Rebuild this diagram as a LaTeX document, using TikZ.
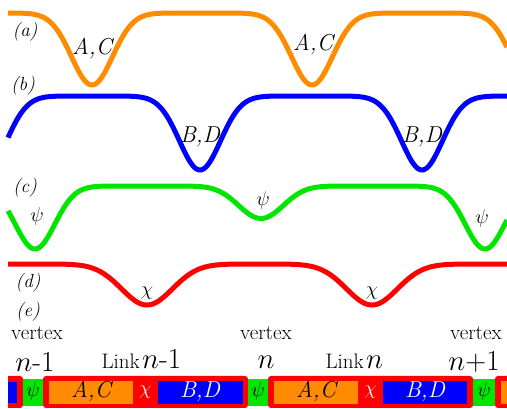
\RequirePackage{fix-cm}
\documentclass[tikz,border=0pt]{standalone}
\definecolor{cOr}{RGB}{255,140,0}
\definecolor{cBl}{RGB}{0,0,255}
\definecolor{cGr}{RGB}{0,230,0}
\definecolor{cRd}{RGB}{255,0,0}
\begin{document}
\begin{tikzpicture}[x=1pt,y=-1pt,
  declare function={g(\t,\c,\s)=exp(-min(((\t-\c)/\s)^2,12));},
  curve/.style={line width=5pt, line join=round},
  tag/.style={font=\fontsize{19}{22}\selectfont\itshape, inner sep=0pt},
  lab/.style={font=\fontsize{23}{26}\selectfont\itshape, inner sep=0pt},
  greek/.style={font=\fontsize{20}{24}\selectfont, inner sep=0pt},
  word/.style={font=\fontsize{21}{24}\selectfont, inner sep=0pt},
  big/.style={font=\fontsize{29}{32}\selectfont, inner sep=0pt},
  redbox/.style={fill=cRd, rounded corners=3pt},
  blab/.style={font=\fontsize{23}{26}\selectfont\itshape, inner sep=0pt}]
\useasboundingbox (0,0) rectangle (507,409);
% curves
\draw[curve, cOr] plot[domain=8:507, samples=300, smooth]
  (\x, {13+72*(g(\x,92,29)+g(\x,312,29)+g(\x,532,29))});
\draw[curve, cBl] plot[domain=8:507, samples=300, smooth]
  (\x, {96+74*(g(\x,-14,29)+g(\x,200,29)+g(\x,422,29))});
\draw[curve, cGr] plot[domain=8:507, samples=300, smooth]
  (\x, {186+63*(g(\x,35,28)+g(\x,485,28))+36*(0.5*g(\x,252,28)+0.5*g(\x,270,28))});
\draw[curve, cRd] plot[domain=8:507, samples=300, smooth]
  (\x, {264+41*(g(\x,147,36)+g(\x,372,36))});
% curve labels
\node[tag] (ta) at (25,32) {(a)};
\node[tag] (tb) at (23,86) {(b)};
\node[tag] (tc) at (25,188) {(c)};
\node[tag] (td) at (28,283) {(d)};
\node[tag] (te) at (28,312) {(e)};
\node[lab] (ac1) at (92,49) {A,C};
\node[lab] (ac2) at (313,45) {A,C};
\node[lab] (bd1) at (200,137) {B,D};
\node[lab] (bd2) at (422,137) {B,D};
\node[greek] (p1) at (37,217) {$\psi$};
\node[greek] (p2) at (263,201) {$\psi$};
\node[greek] (p3) at (482,219) {$\psi$};
\node[greek] (c1) at (147,293) {$\chi$};
\node[greek] (c2) at (372,293) {$\chi$};
% vertex / link labels
\node[word] (v1) at (37,333) {vertex};
\node[word] (v2) at (266,333) {vertex};
\node[word] (v3) at (476,333) {vertex};
\node[big] (n1) at (35,362) {$n$-1};
\node[big] (n2) at (266,362) {$n$};
\node[big] (n3) at (474,362) {$n$+1};
\node[word, anchor=base east] (lk1) at (140,369) {Link};
\node[big, anchor=base west] (ln1) at (142,369) {$n$-1};
\node[word, anchor=base east] (lk2) at (364,369) {Link};
\node[big, anchor=base west] (ln2) at (366,369) {$n$};
% bar
\begin{scope}
\clip (8,0) rectangle (507,409);
\fill[redbox] (-20,376) rectangle (23,408);
\fill[cBl] (-20,382) rectangle (17,403);
\fill[cGr] (23,379) rectangle (43,406);
\fill[redbox] (43,376) rectangle (248,408);
\fill[cOr] (49,381) rectangle (133,404);
\fill[cBl] (158,381) rectangle (243,404);
\fill[cGr] (248,379) rectangle (268,406);
\fill[redbox] (268,376) rectangle (473,408);
\fill[cOr] (274,381) rectangle (358,404);
\fill[cBl] (383,381) rectangle (467,404);
\fill[cGr] (473,379) rectangle (495,406);
\fill[redbox] (495,376) rectangle (560,408);
\fill[cOr] (501,381) rectangle (585,404);
\end{scope}
\node[greek] (bp1) at (33,392) {$\psi$};
\node[greek] (bp2) at (258,392) {$\psi$};
\node[greek] (bp3) at (484,392) {$\psi$};
\node[blab] (bac1) at (91,392) {A,C};
\node[blab] (bac2) at (316,392) {A,C};
\node[greek, text=white] (bc1) at (145.5,392) {$\chi$};
\node[greek, text=white] (bc2) at (370.5,392) {$\chi$};
\node[blab, text=white] (bbd1) at (200,392) {B,D};
\node[blab, text=white] (bbd2) at (425,392) {B,D};
\end{tikzpicture}
\end{document}
